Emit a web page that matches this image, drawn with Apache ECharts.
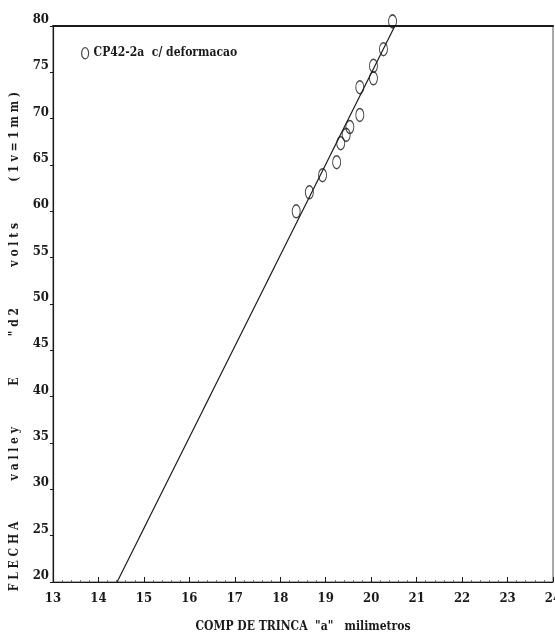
<!DOCTYPE html>
<html>
<head>
<meta charset="utf-8">
<script src="https://cdn.jsdelivr.net/npm/echarts@6/dist/echarts.min.js"></script>
<style>html,body{margin:0;padding:0;background:#fff}#c{width:555px;height:635px}</style>
</head>
<body>
<div id="c"></div>
<script>
// Measured points: crack length a (mm) vs. deflection (volts)
const crackLength = [18.35, 18.64, 18.93, 19.24, 19.33, 19.45, 19.53, 19.75, 19.75, 20.05, 20.05, 20.27, 20.47];
const deflection  = [60.0, 62.05, 63.9, 65.3, 67.35, 68.25, 69.1, 70.4, 73.4, 74.35, 75.7, 77.5, 80.5];
// Fitted straight line (end points in data units)
const fitX = [14.41, 20.52];
const fitY = [20, 80];
const xTicks = [13, 14, 15, 16, 17, 18, 19, 20, 21, 22, 23, 24];
const yTicks = [20, 25, 30, 35, 40, 45, 50, 55, 60, 65, 70, 75, 80];
const seriesName = 'CP42-2a  c/ deformacao';
const xTitle = 'COMP DE TRINCA  "a"   milimetros';
const yTitleWords = ['FLECHA', 'valley', 'E', '"d2', 'volts', '(1v=1mm)'];

const yTitle = yTitleWords.map(w => w.split('').join(' ')).join('           ') + '\u00a0'.repeat(20);

const FONT = "'DejaVu Serif Condensed', 'Liberation Serif', serif";
const ink = '#1a1a1a';

const chart = echarts.init(document.getElementById('c'), null, {renderer: 'canvas'});
chart.setOption({
  backgroundColor: '#fff',
  animation: false,
  grid: {left: 53, right: 2, top: 26, bottom: 53, show: true, borderColor: '#555', borderWidth: 1, outerBoundsMode: 'none', containLabel: false},
  legend: {
    left: 76, top: 42, itemWidth: 7, itemHeight: 12, itemGap: 5,
    data: [{name: seriesName, icon: 'path://M5,0 A5,8 0 1,1 5,16 A5,8 0 1,1 5,0 Z', itemStyle: {color: 'transparent', borderColor: ink, borderWidth: 1.2}}],
    textStyle: {fontFamily: FONT, fontWeight: 'bold', fontSize: 12, color: ink}
  },
  xAxis: [{
    type: 'value', min: xTicks[0], max: xTicks[xTicks.length - 1], interval: 1,
    name: xTitle, nameLocation: 'middle', nameGap: 39,
    nameTextStyle: {fontFamily: FONT, fontWeight: 'bold', fontSize: 12, color: ink},
    axisLine: {show: true, lineStyle: {color: ink, width: 1.2}},
    axisTick: {show: true, inside: true, length: 5, lineStyle: {color: ink}},
    minorTick: {show: true, splitNumber: 5, length: 2, lineStyle: {color: '#777'}},
    axisLabel: {margin: 10, fontFamily: FONT, fontWeight: 'bold', fontSize: 13, color: ink},
    splitLine: {show: false}
  }, {
    type: 'value', position: 'top', min: 13, max: 24, interval: 1,
    axisLine: {show: true, lineStyle: {color: ink, width: 2}},
    axisTick: {show: false}, axisLabel: {show: false}, splitLine: {show: false}
  }],
  yAxis: {
    type: 'value', min: yTicks[0], max: yTicks[yTicks.length - 1], interval: 5,
    name: yTitle, nameLocation: 'middle', nameGap: 32, nameRotate: 90,
    nameTextStyle: {fontFamily: FONT, fontWeight: 'bold', fontSize: 12, color: ink},
    axisLine: {show: true, lineStyle: {color: ink, width: 1.2}},
    axisTick: {show: true, inside: false, length: 3, lineStyle: {color: ink}},
    axisLabel: {margin: 4, fontFamily: FONT, fontWeight: 'bold', fontSize: 13, color: ink, verticalAlign: 'bottom'},
    splitLine: {show: false}
  },
  series: [{
    name: seriesName, type: 'scatter', clip: false,
    symbol: 'circle', symbolSize: [8, 13],
    itemStyle: {color: 'transparent', borderColor: ink, borderWidth: 1.2},
    data: crackLength.map((x, i) => [x, deflection[i]])
  }, {
    name: 'fit', type: 'line', showSymbol: false, symbol: 'none',
    lineStyle: {color: ink, width: 1.2},
    data: fitX.map((x, i) => [x, fitY[i]])
  }]
});
</script>
</body>
</html>
